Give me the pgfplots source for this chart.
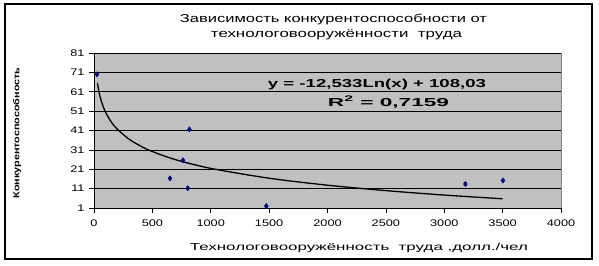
\documentclass[border=0pt]{standalone}
\usepackage{fontspec}
\setmainfont{Liberation Sans}
\usepackage{graphicx}
\usepackage{pgfplots}
\pgfplotsset{compat=1.18}
\definecolor{plotgray}{RGB}{192,192,192}
\definecolor{framegray}{RGB}{128,128,128}
\definecolor{navypt}{RGB}{0,0,128}
\begin{document}
\begin{tikzpicture}[x=1bp,y=1bp]
\useasboundingbox (-94,-57) rectangle (505,208);
\draw[black,line width=1.5bp] (-89,-51) rectangle (498,204);
\begin{axis}[
  at={(0,0)}, anchor=origin,
  scale only axis, width=467bp, height=155bp,
  xmin=0, xmax=4000, ymin=1, ymax=81,
  xtick={0,500,...,4000}, ytick={1,11,...,81},
  axis x line*=bottom, axis y line*=left,
  axis line style={black, line width=0.7bp, -},
  axis background/.style={fill=plotgray, draw=framegray, line width=0.8bp},
  tick align=outside, major tick length=5bp,
  tick style={black, line width=0.7bp},
  ymajorgrids, major grid style={black, line width=0.7bp},
  /pgf/number format/assume math mode=true,
  /pgf/number format/1000 sep={},
  tick label style={font=\fontsize{9.6}{10}\selectfont},
  xticklabel={\scalebox{1.33}[1]{\pgfmathprintnumber{\tick}}},
  yticklabel={\scalebox{1.33}[1]{\pgfmathprintnumber{\tick}}},
  xticklabel style={yshift=-3bp},
  yticklabel style={xshift=-1bp},
  clip=false,
]
\addplot[black, line width=1.3bp, smooth] coordinates {
 (30,65.40) (40,61.80) (50,59.00) (70,54.79) (100,50.31) (150,45.23)
 (200,41.63) (300,36.54) (400,32.94) (500,30.14) (700,25.92) (1000,21.45)
 (1500,16.37) (2000,12.77) (2500,9.97) (3000,7.68) (3500,5.76)};
\addplot[only marks, mark=diamond*, mark size=2.6bp, navypt, mark options={fill=navypt, draw=navypt}] coordinates {
 (26,70) (651,16.3) (762,25.7) (803,11.2) (817,41.6) (1476,2) (3181,13.4) (3503,15.2)};
\end{axis}
\node[anchor=base, inner sep=0pt, font=\fontsize{11.5}{13}\selectfont] at (239.5,185.3) {\resizebox{307bp}{\height}{Зависимость конкурентоспособности от}};
\node[anchor=base, inner sep=0pt, font=\fontsize{11.5}{13}\selectfont] at (242.5,170.3) {\resizebox{251bp}{\height}{технологовооружённости\ \ труда}};
\node[anchor=base, inner sep=0pt, font=\bfseries\fontsize{11.6}{13}\selectfont] at (283,120.7) {\resizebox{218bp}{\height}{y = -12,533Ln(x) + 108,03}};
\node[anchor=base, inner sep=0pt, font=\bfseries\fontsize{11.6}{13}\selectfont] at (294.5,102) {\resizebox{121bp}{\height}{R\textsuperscript{2} = 0,7159}};
\node[inner sep=0pt, rotate=90, font=\bfseries\fontsize{8.6}{10}\selectfont] at (-77,75) {\resizebox{131bp}{\height}{Конкурентоспособность}};
\node[anchor=base, inner sep=0pt, font=\fontsize{10.2}{12}\selectfont] at (265,-42.7) {\resizebox{338bp}{\height}{Технологовооружённость\ \ труда ,долл./чел}};
\end{tikzpicture}
\end{document}
